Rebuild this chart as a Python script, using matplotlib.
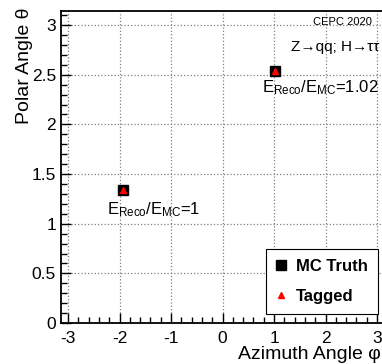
import matplotlib
matplotlib.use("Agg")
import matplotlib.pyplot as plt
import numpy as np
from matplotlib.ticker import MultipleLocator

plt.rcParams['font.family'] = ['Liberation Sans', 'DejaVu Sans']
plt.rcParams['mathtext.fontset'] = 'custom'
plt.rcParams['mathtext.rm'] = 'Liberation Sans'
plt.rcParams['mathtext.it'] = 'Liberation Sans'

# particle directions
phi_mc = [-1.93, 1.01]
theta_mc = [1.34, 2.54]
phi_tag = [-1.93, 1.01]
theta_tag = [1.34, 2.54]
ratio_labels = ['1', '1.02']
label_pos_x = [-2.24, 0.76]
label_pos_y = [1.14, 2.37]

fig = plt.figure(figsize=(3.82, 3.64), dpi=100)
ax = fig.add_axes([0.159, 0.1126, 0.847, 0.857])

ax.plot(phi_mc, theta_mc, 's', color='black', markersize=7.5, label='MC Truth', zorder=3)
ax.plot(phi_tag, theta_tag, '^', color='red', markersize=5, label='Tagged', zorder=4)

for xx, yy, r in zip(label_pos_x, label_pos_y, ratio_labels):
    ax.text(xx, yy, r'E$_{\mathrm{Reco}}$/E$_{\mathrm{MC}}$=' + r, fontsize=12,
            va='center', ha='left')

ax.set_xlim(-np.pi, np.pi)
ax.set_ylim(0, np.pi)
ax.xaxis.set_minor_locator(MultipleLocator(0.2))
ax.yaxis.set_minor_locator(MultipleLocator(0.1))
ax.set_xticks([-3, -2, -1, 0, 1, 2, 3])
ax.set_xticklabels(['-3', '-2', '-1', '0', '1', '2', '3'])
ax.set_yticks([0, 0.5, 1, 1.5, 2, 2.5, 3])
ax.set_yticklabels(['0', '0.5', '1', '1.5', '2', '2.5', '3'])
ax.tick_params(which='both', direction='in', labelsize=12.5, top=False, right=False)
ax.tick_params(which='major', length=7, width=1)
ax.tick_params(which='minor', length=4, width=1)
ax.tick_params(axis='x', pad=6)
ax.grid(True, which='major', linestyle=':', color='gray', linewidth=0.9)
for s in ax.spines.values():
    s.set_linewidth(1.3)

ax.set_xlabel('Azimuth Angle φ', fontsize=14, ha='right', x=0.99, labelpad=0)
ax.set_ylabel('Polar Angle θ', fontsize=14, ha='right', y=1.01, labelpad=-1)

ax.text(0.963, 0.965, 'CEPC 2020', transform=ax.transAxes, fontsize=8,
        ha='right', va='center')
ax.text(0.985, 0.885, 'Z→qq; H→ττ', transform=ax.transAxes, fontsize=11,
        ha='right', va='center')

leg = ax.legend(loc='lower right', bbox_to_anchor=(0.98, 0.028), fancybox=False,
                edgecolor='black', framealpha=1, prop={'weight': 'bold', 'size': 12},
                handlelength=0.6, handletextpad=0.6, labelspacing=0.9,
                borderpad=0.6, borderaxespad=0)
leg.get_frame().set_linewidth(0.8)

fig.savefig('out.png', dpi=100)
